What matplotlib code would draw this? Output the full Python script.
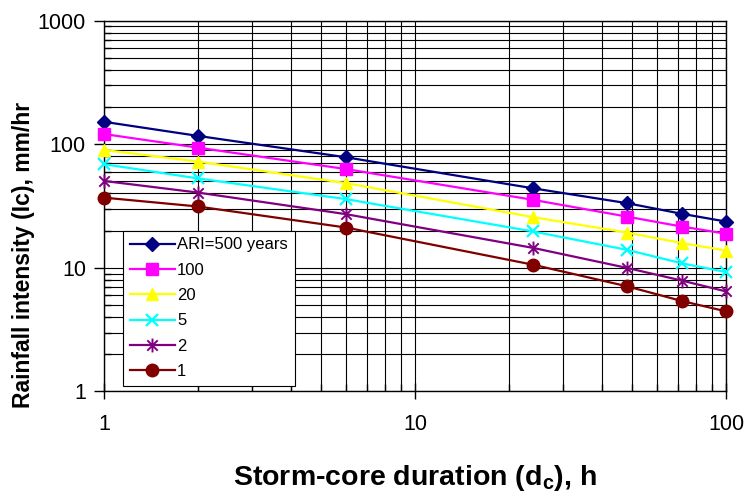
import matplotlib
matplotlib.use("Agg")
import matplotlib.pyplot as plt
from matplotlib.path import Path
from matplotlib.ticker import LogLocator, FuncFormatter, NullFormatter

plt.rcParams['font.family'] = ['Liberation Sans', 'DejaVu Sans']

durations = [1, 2, 6, 24, 48, 72, 100]
ari_500 = [152, 117, 78.5, 44, 33.4, 27.4, 23.7]
ari_100 = [121, 94, 63, 35.5, 26, 21.6, 18.9]
ari_20 = [90, 72.5, 48.5, 25.7, 19.3, 15.9, 13.8]
ari_5 = [69, 53, 36, 19.7, 14, 10.9, 9.25]
ari_2 = [50.5, 40.7, 27.2, 14.5, 10, 7.9, 6.45]
ari_1 = [37, 31.4, 21.2, 10.6, 7.1, 5.4, 4.45]
labels = ["ARI=500 years", "100", "20", "5", "2", "1"]
colors = ["#000080", "#FF00FF", "#FFFF00", "#00FFFF", "#800080", "#800000"]

star = Path([(0, -1), (0, 1), (-0.75, -0.75), (0.75, 0.75), (-0.75, 0.75), (0.75, -0.75)],
            [Path.MOVETO, Path.LINETO, Path.MOVETO, Path.LINETO, Path.MOVETO, Path.LINETO])
markers = ["D", "s", "^", "x", star, "o"]
msizes = [7, 9, 9, 9, 10, 9]
mews = [1, 1, 1, 1.6, 1.4, 1]

fig = plt.figure(figsize=(7.46, 4.92), dpi=100)
ax = fig.add_axes([0.1394, 0.2043, 0.8338, 0.7537])

series = [ari_500, ari_100, ari_20, ari_5, ari_2, ari_1]
for vals, lab, c, m, ms, mew in zip(series, labels, colors, markers, msizes, mews):
    ax.plot(durations, vals, color=c, marker=m, markersize=ms, markeredgewidth=mew,
            markeredgecolor=c, markerfacecolor=c, linewidth=1.6, label=lab, clip_on=False, zorder=3)

ax.set_xscale("log")
ax.set_yscale("log")
ax.set_xlim(1, 100)
ax.set_ylim(1, 1000)

fmt = FuncFormatter(lambda v, p: f"{v:g}")
ax.xaxis.set_major_formatter(fmt)
ax.yaxis.set_major_formatter(fmt)
ax.xaxis.set_minor_formatter(NullFormatter())
ax.yaxis.set_minor_formatter(NullFormatter())
ax.xaxis.set_minor_locator(LogLocator(base=10, subs=range(2, 10)))
ax.yaxis.set_minor_locator(LogLocator(base=10, subs=range(2, 10)))

ax.grid(True, which="both", color="black", linewidth=0.8)
ax.set_axisbelow(True)

ax.tick_params(axis="y", which="major", direction="out", length=7, width=1, labelsize=15.5, pad=6)
ax.tick_params(axis="y", which="minor", direction="in", length=5, width=1)
ax.tick_params(axis="x", which="major", direction="inout", length=12, width=1, labelsize=15.5, pad=10)
ax.tick_params(axis="x", which="minor", direction="in", length=5, width=1)

for s in ax.spines.values():
    s.set_color("black")
    s.set_linewidth(1)

ax.set_ylabel("Rainfall intensity (Ic), mm/hr", fontsize=16.5, fontweight="bold")
ax.yaxis.label.set_verticalalignment("center")
ax.yaxis.set_label_coords(-0.129, 0.368)
ax.set_xlabel("Storm-core duration (d$_\\mathregular{c}$), h", fontsize=20.5, fontweight="bold")
ax.xaxis.label.set_verticalalignment("baseline")
ax.xaxis.set_label_coords(0.5, -0.252)

leg = ax.legend(loc="lower left", bbox_to_anchor=(0.0214, 0.0), fontsize=12, frameon=True,
                fancybox=False, edgecolor="black", framealpha=1, borderpad=0.4,
                labelspacing=0.62, handlelength=2.7, handletextpad=0.15, borderaxespad=0.34)
leg.get_frame().set_linewidth(0.8)

fig.savefig("out.png", dpi=100)
